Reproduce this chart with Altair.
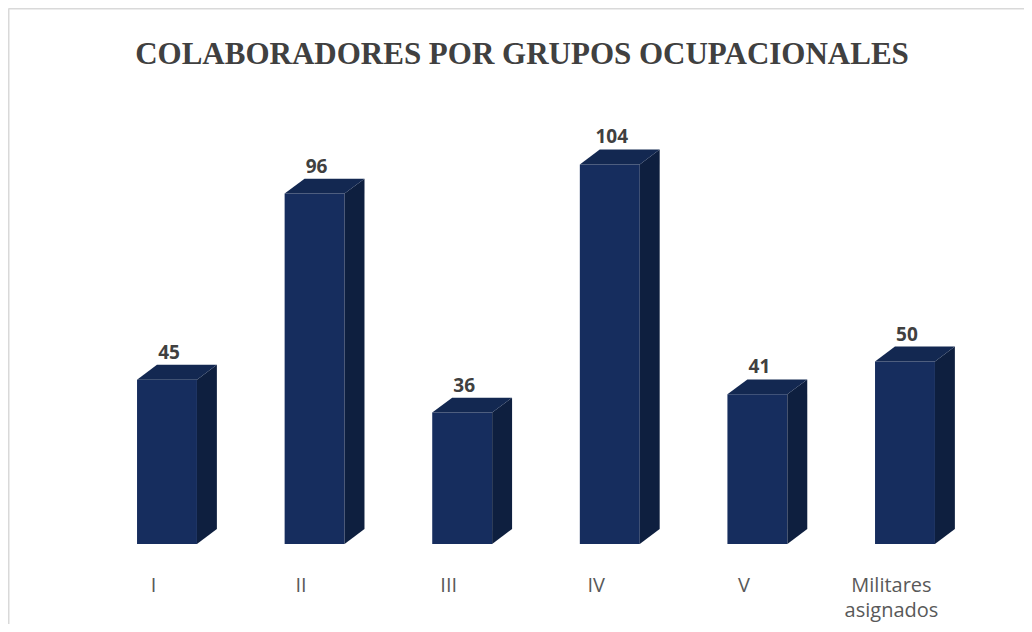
import json
import altair as alt
import pandas as pd

# ---- data ----
categories = ["I", "II", "III", "IV", "V", "Militares asignados"]
values = [45, 96, 36, 104, 41, 50]
title_text = "COLABORADORES POR GRUPOS OCUPACIONALES"

# ---- 3D bar geometry (in data units) ----
HW = 0.203      # half width of front face
DX = 0.135      # depth in x
DY = 4.1        # depth in y
LABEL_SHIFT = -0.095

FRONT = "#162D5E"
SIDE = "#0E1F3F"
TOP = "#132851"

front_rows, side_rows, top_rows, lab_rows = [], [], [], []
for i, (c, v) in enumerate(zip(categories, values)):
    front_rows.append({"cat": c, "x0": i - HW, "x1": i + HW, "base": 0, "v": v})
    side_rows += [
        {"cat": c, "x": i + HW, "lo": 0, "hi": v},
        {"cat": c, "x": i + HW + DX, "lo": DY, "hi": v + DY},
    ]
    top_rows += [
        {"cat": c, "x": i - HW, "lo": v, "hi": v},
        {"cat": c, "x": i - HW + DX, "lo": v, "hi": v + DY},
        {"cat": c, "x": i + HW, "lo": v, "hi": v + DY},
        {"cat": c, "x": i + HW + DX, "lo": v + DY, "hi": v + DY},
    ]
    lab_rows.append({"cat": c, "x": i + 0.0135, "y": v + DY, "t": str(v)})

front_df = pd.DataFrame(front_rows)
side_df = pd.DataFrame(side_rows)
top_df = pd.DataFrame(top_rows)
lab_df = pd.DataFrame(lab_rows)

label_list = [c.split(" ") if " " in c else c for c in categories]
label_expr = f"{json.dumps(label_list)}[round(datum.value - ({LABEL_SHIFT}))]"

xscale = alt.Scale(domain=[-1.0772, 5.8063], nice=False, zero=False)
yscale = alt.Scale(domain=[-21.92, 146.85], nice=False, zero=False)

bottom_axis = alt.Axis(
    orient="bottom", values=[i + LABEL_SHIFT for i in range(len(categories))],
    labelExpr=label_expr, domain=False, ticks=False, grid=False, title=None,
    labelFont="Open Sans", labelFontSize=20, labelColor="#595959",
    labelBaseline="top", labelOverlap=False, labelFlush=False, labelBound=False,
    labelPadding=0, labelLineHeight=25, offset=-49,
)
top_axis = alt.Axis(orient="top", labels=False, ticks=False, grid=False, title=None,
                    domain=True, domainColor="#d9d9d9", domainWidth=2)
left_axis = alt.Axis(orient="left", labels=False, ticks=False, grid=False, title=None,
                     domain=True, domainColor="#d9d9d9", domainWidth=2)

front = alt.Chart(front_df).mark_rect(color=FRONT).encode(
    x=alt.X("x0:Q", scale=xscale, axis=bottom_axis),
    x2="x1:Q",
    y=alt.Y("base:Q", scale=yscale, axis=left_axis),
    y2="v:Q",
)

side = alt.Chart(side_df).mark_area(color=SIDE).encode(
    x=alt.X("x:Q", scale=xscale, axis=None),
    y=alt.Y("lo:Q", scale=yscale, axis=left_axis),
    y2="hi:Q",
    detail="cat:N",
)

top = alt.Chart(top_df).mark_area(color=TOP).encode(
    x=alt.X("x:Q", scale=xscale, axis=top_axis),
    y=alt.Y("lo:Q", scale=yscale, axis=left_axis),
    y2="hi:Q",
    detail="cat:N",
)

labels = alt.Chart(lab_df).mark_text(
    font="Open Sans", fontSize=19, fontWeight="bold", color="#404040",
    baseline="bottom", dy=-2,
).encode(
    x=alt.X("x:Q", scale=xscale, axis=None),
    y=alt.Y("y:Q", scale=yscale, axis=left_axis),
    text="t:N",
)

chart = alt.layer(front, side, top, labels).resolve_axis(x="independent").properties(
    width=1016, height=616, padding=0,
    title=alt.TitleParams(
        text=title_text, font="Liberation Serif", fontSize=31, fontWeight="bold",
        color="#404040", anchor="middle", frame="group", offset=-57,
        baseline="alphabetic", dx=6, dy=30,
    ),
    background="white",
).configure_view(stroke=None)

chart.save("out.html", embed_options={"renderer": "svg", "actions": False})
